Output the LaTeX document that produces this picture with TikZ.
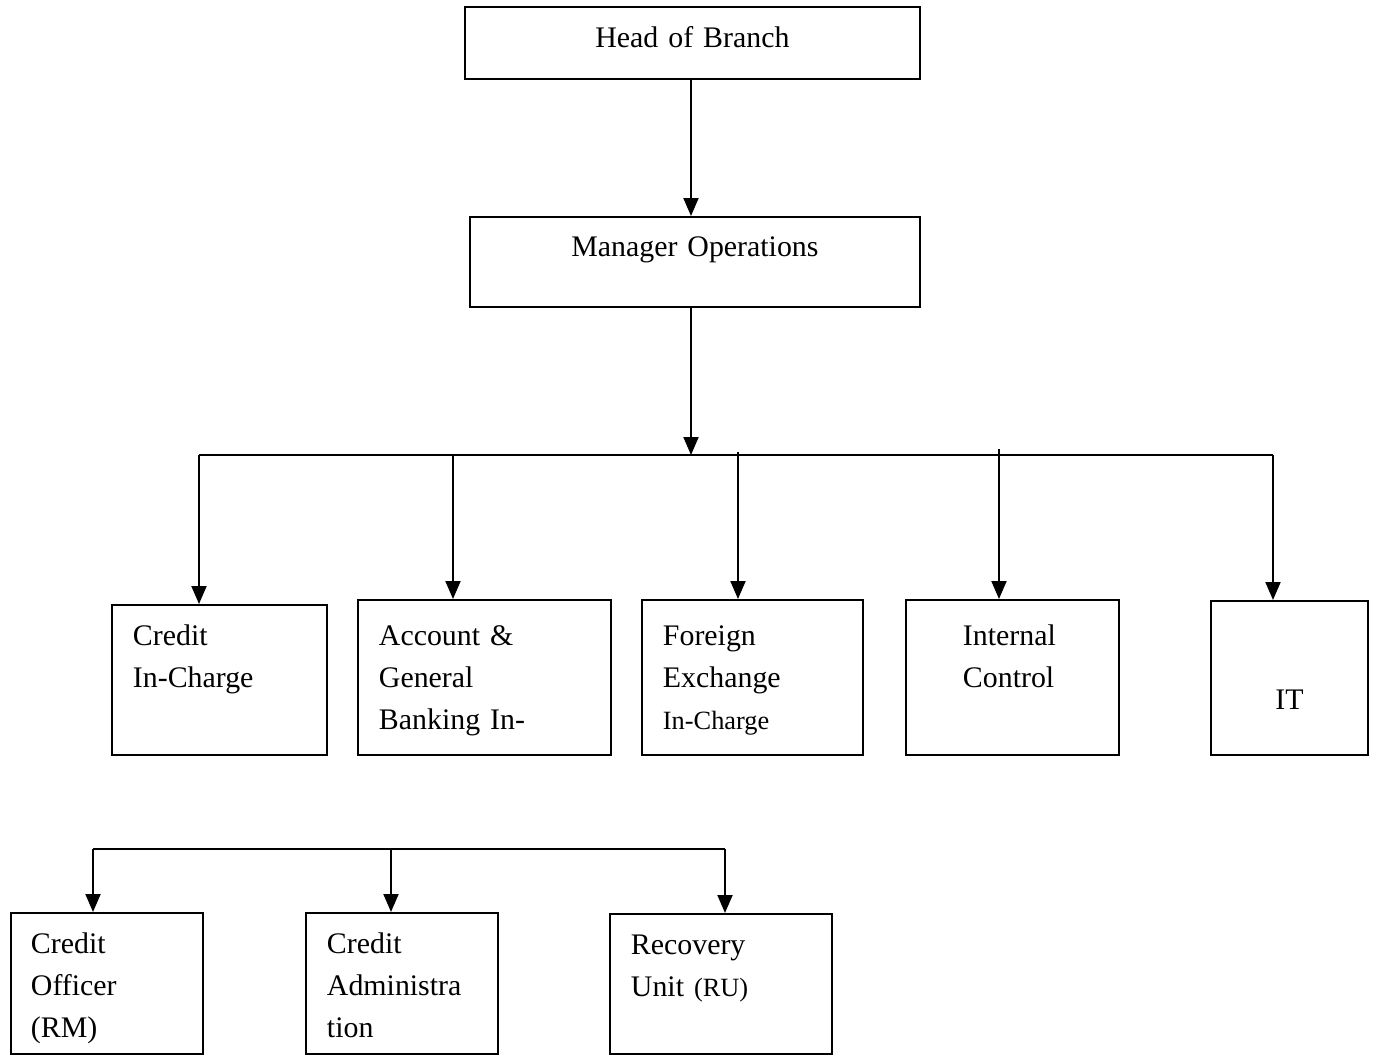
\documentclass[tikz,border=0pt]{standalone}
\usepackage{fontspec}
\setmainfont{Liberation Serif}
\usetikzlibrary{arrows.meta}
\newcommand{\orgfont}{\fontsize{17}{23.9}\selectfont\hyphenpenalty=10000\relax}
\newcommand{\smalltext}[1]{{\fontsize{15}{20}\selectfont #1}}
\tikzset{
  orgbox/.style={draw, line width=1.1pt, anchor=north west, inner ysep=0pt, align=left,
    font=\orgfont},
  arr/.style={-{Triangle[length=0.36cm,width=0.3cm]}, line width=1.1pt},
  bus/.style={line width=1.3pt},
}
\begin{document}
\begin{tikzpicture}[x=0.02cm, y=-0.02cm]
\useasboundingbox (0,0) rectangle (1374,1055);
% top of the chart
\node[orgbox, align=center, inner xsep=0pt, text width=9.1cm, text height=0.82cm, text depth=0.62cm] (head) at (464,6) {Head of Branch};
\node[orgbox, align=center, inner xsep=0pt, text width=9.0cm, text height=0.80cm, text depth=1.0cm] (mgr) at (469,216) {Manager Operations};
% departments
\node[orgbox, inner xsep=0.42cm, text width=3.46cm, text height=0.82cm, text depth=2.18cm] (credit) at (111,604) {Credit\\In-Charge};
\node[orgbox, inner xsep=0.42cm, text width=4.22cm, text height=0.92cm, text depth=2.18cm] (account) at (357,599) {Account \&\\General\\Banking In-};
\node[orgbox, inner xsep=0.42cm, text width=3.58cm, text height=0.92cm, text depth=2.18cm] (forex) at (641,599) {Foreign\\Exchange\\\smalltext{In-Charge}};
\node[orgbox, inner xsep=1.14cm, text width=1.98cm, text height=0.92cm, text depth=2.18cm] (control) at (905,599) {Internal\\Control};
\node[orgbox, align=center, inner xsep=0pt, text width=3.14cm, text height=2.18cm, text depth=0.90cm] (it) at (1210,600) {IT};
% credit units
\node[orgbox, inner xsep=0.40cm, text width=3.04cm, text height=0.82cm, text depth=2.0cm] (officer) at (10,912) {Credit\\Officer\\(RM)};
\node[orgbox, inner xsep=0.42cm, text width=3.0cm, text height=0.82cm, text depth=2.0cm] (admin) at (305,912) {Credit\\Administra\\tion};
\node[orgbox, inner xsep=0.42cm, text width=3.6cm, text height=0.82cm, text depth=1.98cm] (recovery) at (609,913) {Recovery\\Unit \smalltext{(RU)}};

% connectors
\coordinate (bus) at (691,455);
\draw[arr] (head.south -| bus) -- (bus |- mgr.north);
\draw[arr] (mgr.south -| bus) -- (bus);
\draw[bus] (199,455) coordinate (busL) -- (1273,455) coordinate (busR);
\foreach \x/\y/\n in {199/455/credit, 453/455/account, 738/452/forex, 999/449/control, 1273/455/it}{
  \coordinate (b-\n) at (\x,\y);
  \draw[arr] (b-\n) -- (b-\n |- \n.north);
}
\draw[bus] (93,849) coordinate (lowL) -- (725,849) coordinate (lowR);
\foreach \x/\n in {93/officer, 391/admin, 725/recovery}{
  \coordinate (l-\n) at (\x,849);
  \draw[arr] (l-\n) -- (l-\n |- \n.north);
}
\end{tikzpicture}
\end{document}
